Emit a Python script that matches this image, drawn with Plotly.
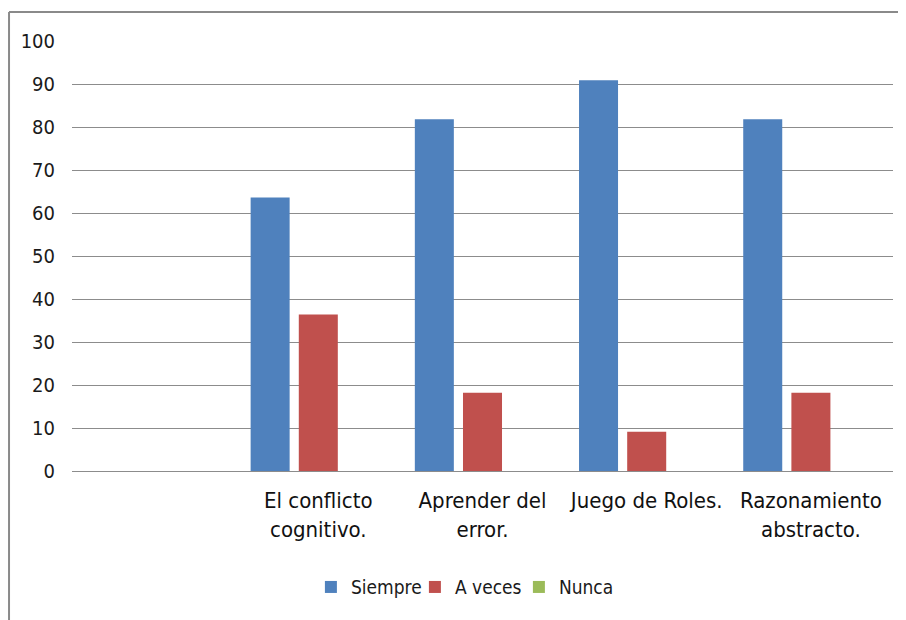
import plotly.graph_objects as go

categories = [" ", "El conflicto<br>cognitivo.", "Aprender del<br>error.", "Juego de Roles.", "Razonamiento<br>abstracto."]
siempre = [None, 63.6, 81.8, 90.9, 81.8]
a_veces = [None, 36.4, 18.2, 9.1, 18.2]
nunca = [None, 0, 0, 0, 0]
y_ticks = [0, 10, 20, 30, 40, 50, 60, 70, 80, 90, 100]

narrow = "DejaVu Sans Condensed"

fig = go.Figure()
fig.add_trace(go.Bar(x=categories, y=siempre, name="Siempre", marker=dict(color="#4F81BD", line=dict(width=0))))
fig.add_trace(go.Bar(x=categories, y=a_veces, name="A veces", marker=dict(color="#C0504D", line=dict(width=0))))
fig.add_trace(go.Bar(x=categories, y=nunca, name="Nunca", marker=dict(color="#9BBB59", line=dict(width=0))))

# page body has an 8px margin, so figure coords are offset by (8, 8)
fig.update_layout(
    width=906, height=620,
    margin=dict(l=64, r=21, t=33, b=157),
    paper_bgcolor="white", plot_bgcolor="white",
    barmode="group", bargap=0.12, bargroupgap=0.19,
    showlegend=True,
    legend=dict(orientation="h", x=0.481, xanchor="center", y=-0.27, yanchor="middle",
                font=dict(family=narrow, size=19, color="#1a1a1a"), itemwidth=30,
                entrywidth=59, traceorder="normal"),
    xaxis=dict(type="category", categoryorder="array", categoryarray=categories,
               showgrid=False, showline=True, linecolor="#8c8c8c", linewidth=1,
               ticks="", tickfont=dict(family=narrow, size=22, color="#111111"),
               ticklabelstandoff=10, fixedrange=True, tickangle=0),
    yaxis=dict(range=[0, 100], tickvals=y_ticks, showgrid=True, gridcolor="#8c8c8c", gridwidth=1,
               zeroline=False, showline=False, ticks="",
               tickfont=dict(family=narrow, size=20, color="#1a1a1a"),
               ticklabelstandoff=16, fixedrange=True),
    shapes=[
        dict(type="line", xref="paper", yref="paper", x0=-0.0767, x1=-0.0767, y0=1.0674, y1=-0.4,
             line=dict(color="#8a8a8a", width=2)),
        dict(type="line", xref="paper", yref="paper", x0=-0.0767, x1=1.1, y0=1.0674, y1=1.0674,
             line=dict(color="#8a8a8a", width=2)),
    ],
)

fig.write_html("out.html")
